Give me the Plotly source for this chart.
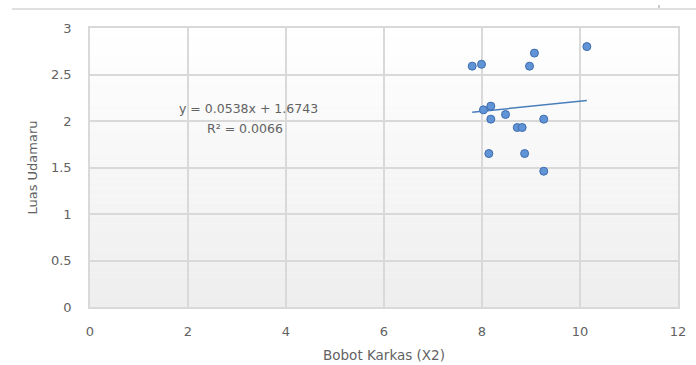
import numpy as np
import plotly.graph_objects as go

# Bobot Karkas (X2) vs Luas Udamaru
bobot_karkas = [7.80, 7.99, 9.07, 8.97, 10.14, 8.18, 8.03, 8.18, 8.48, 9.26, 8.72, 8.82, 8.14, 8.87, 9.26]
luas_udamaru = [2.59, 2.61, 2.73, 2.59, 2.80, 2.16, 2.12, 2.02, 2.07, 2.02, 1.93, 1.93, 1.65, 1.65, 1.46]

# linear trendline coefficients as printed on the chart
slope = 0.0538
intercept = 1.6743
r_squared = 0.0066

x_ticks = [0, 2, 4, 6, 8, 10, 12]
y_ticks = [0, 0.5, 1, 1.5, 2, 2.5, 3]

FONT = "DejaVu Sans"
TXT = "#626262"
GRID = "#d9d9d9"

W, H = 696, 365
ML, MR, MT, MB = 90, 18, 28, 58
PW, PH = W - ML - MR, H - MT - MB


def px_x(p):
    return (p - ML) / PW


def px_y(p):
    return 1 - (p - MT) / PH


fig = go.Figure()

tx = np.array([min(bobot_karkas), max(bobot_karkas)])
fig.add_trace(go.Scatter(
    x=tx, y=slope * tx + intercept, mode="lines",
    line=dict(color="#4a7ebb", width=1.5), hoverinfo="skip", showlegend=False))

fig.add_trace(go.Scatter(
    x=bobot_karkas, y=luas_udamaru, mode="markers",
    marker=dict(size=8, color="#6094d6", line=dict(color="#3d6cae", width=1)),
    showlegend=False))

# soft vertical gradient in the plot area: white at top, light grey at bottom
shapes = []
n = 40
for i in range(n):
    t = (i + 0.5) / n
    g = int(round(255 - (255 - 238) * t))
    shapes.append(dict(type="rect", xref="x domain", yref="y domain",
                       x0=0, x1=1, y0=1 - (i + 1) / n, y1=1 - i / n,
                       fillcolor=f"rgb({g},{g},{g})", line=dict(width=0),
                       layer="below"))
# thin rule along the top of the canvas
shapes.append(dict(type="line", xref="paper", yref="paper",
                   x0=px_x(12), x1=px_x(W), y0=px_y(9), y1=px_y(9),
                   line=dict(color="#d6d6d6", width=1.5)))
shapes.append(dict(type="line", xref="paper", yref="paper",
                   x0=px_x(659), x1=px_x(659), y0=px_y(5), y1=px_y(8),
                   line=dict(color="#9a9a9a", width=1)))

fig.update_layout(
    width=W, height=H,
    margin=dict(l=ML, r=MR, t=MT, b=MB),
    paper_bgcolor="white", plot_bgcolor="white",
    shapes=shapes,
    font=dict(family=FONT, color=TXT, size=13),
    annotations=[
        dict(x=px_x(248), y=px_y(108), xref="paper", yref="paper", showarrow=False,
             xanchor="center", yanchor="middle",
             text=f"y = {slope}x + {intercept}", font=dict(size=12.5, color=TXT)),
        dict(x=px_x(245), y=px_y(128), xref="paper", yref="paper", showarrow=False,
             xanchor="center", yanchor="middle",
             text=f"R² = {r_squared}", font=dict(size=12.5, color=TXT)),
    ],
)

fig.update_xaxes(range=[0, 12], tickvals=x_ticks, showgrid=True, gridcolor=GRID,
                 gridwidth=1.5, zeroline=False, showline=True, linecolor=GRID,
                 linewidth=1.5, mirror=True, ticks="", ticklabelstandoff=12,
                 automargin=False,
                 tickfont=dict(size=13, color=TXT),
                 title=dict(text="Bobot Karkas (X2)", font=dict(size=13.5, color=TXT),
                            standoff=12))
fig.update_yaxes(range=[0, 3], tickvals=y_ticks, showgrid=True, gridcolor=GRID,
                 gridwidth=1.5, zeroline=False, showline=True, linecolor=GRID,
                 linewidth=1.5, mirror=True, ticks="", ticklabelstandoff=14,
                 automargin=False,
                 tickfont=dict(size=13, color=TXT),
                 title=dict(text="Luas Udamaru", font=dict(size=13, color=TXT),
                            standoff=10))

fig.write_html("out.html")
